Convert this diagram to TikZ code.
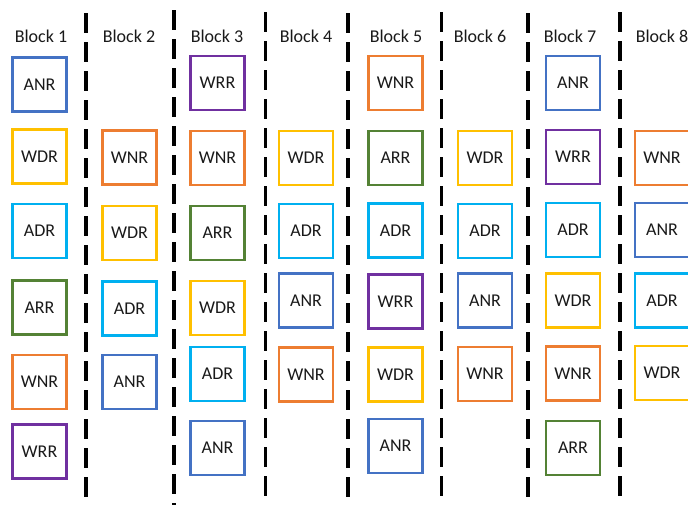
\documentclass[tikz,border=0pt]{standalone}
\usepackage{fontspec}
\setmainfont{Carlito}
\definecolor{cANR}{HTML}{4472C4}
\definecolor{cWNR}{HTML}{ED7D31}
\definecolor{cWDR}{HTML}{FFC000}
\definecolor{cADR}{HTML}{00B0F0}
\definecolor{cARR}{HTML}{548235}
\definecolor{cWRR}{HTML}{7030A0}
\tikzset{
  box/.style={draw, line width=2.5pt, minimum width=54pt, minimum height=54pt, inner sep=0pt,
    font=\fontsize{18}{21}\selectfont, text=black!90},
  anr/.style={box, draw=cANR},
  wnr/.style={box, draw=cWNR},
  wdr/.style={box, draw=cWDR},
  adr/.style={box, draw=cADR},
  arr/.style={box, draw=cARR},
  wrr/.style={box, draw=cWRR},
  blocklabel/.style={font=\fontsize{18}{21}\selectfont, text=black!90, inner sep=0pt},
  divider/.style={line width=3.3pt, dash pattern=on 20pt off 9pt}
}
\begin{document}
\begin{tikzpicture}[x=1pt,y=-1pt]
\useasboundingbox (0,0) rectangle (688,504);
\clip (0,0) rectangle (688,504);
% dividers
\foreach \x/\s in {86/13,174/10,265.5/12,348/13,441.5/12,528/13,620/12}{
  \draw[divider] (\x,\s) -- (\x,510);
}
% labels
\node[blocklabel] (l1) at (41,36) {Block 1};
\node[blocklabel] (l2) at (129,36) {Block 2};
\node[blocklabel] (l3) at (217,36) {Block 3};
\node[blocklabel] (l4) at (306,36) {Block 4};
\node[blocklabel] (l5) at (396,36) {Block 5};
\node[blocklabel] (l6) at (480,36) {Block 6};
\node[blocklabel] (l7) at (570,36) {Block 7};
\node[blocklabel] (l8) at (662,36) {Block 8};
% Block 1
\node[anr] (b1a) at (39.5,84.5) {ANR};
\node[wdr] (b1b) at (39.5,156.5) {WDR};
\node[adr] (b1c) at (39.5,231) {ADR};
\node[arr] (b1d) at (39.5,307.5) {ARR};
\node[wnr] (b1e) at (39.5,382) {WNR};
\node[wrr] (b1f) at (39.5,451.5) {WRR};
% Block 2
\node[wnr] (b2a) at (129.5,157.5) {WNR};
\node[wdr] (b2b) at (129.5,233) {WDR};
\node[adr] (b2c) at (129.5,308.5) {ADR};
\node[anr] (b2d) at (129.5,382) {ANR};
% Block 3
\node[wrr] (b3a) at (217.5,83) {WRR};
\node[wnr] (b3b) at (217.5,158) {WNR};
\node[arr] (b3c) at (217.5,233) {ARR};
\node[wdr] (b3d) at (217.5,308) {WDR};
\node[adr] (b3e) at (217.5,374) {ADR};
\node[anr] (b3f) at (217.5,448) {ANR};
% Block 4
\node[wdr] (b4a) at (306,158) {WDR};
\node[adr] (b4b) at (306,231) {ADR};
\node[anr] (b4c) at (306,300.5) {ANR};
\node[wnr] (b4d) at (306,374.5) {WNR};
% Block 5
\node[wnr] (b5a) at (395.5,83) {WNR};
\node[arr] (b5b) at (395.5,158) {ARR};
\node[adr] (b5c) at (395.5,230.5) {ADR};
\node[wrr] (b5d) at (395.5,301.5) {WRR};
\node[wdr] (b5e) at (395.5,374.5) {WDR};
\node[anr] (b5f) at (395.5,446) {ANR};
% Block 6
\node[wdr] (b6a) at (485,158) {WDR};
\node[adr] (b6b) at (485,231) {ADR};
\node[anr] (b6c) at (485,300.5) {ANR};
\node[wnr] (b6d) at (485,374) {WNR};
% Block 7
\node[anr] (b7a) at (573,83) {ANR};
\node[wrr] (b7b) at (573,157) {WRR};
\node[adr] (b7c) at (573,230) {ADR};
\node[wdr] (b7d) at (573,300.5) {WDR};
\node[wnr] (b7e) at (573,373.5) {WNR};
\node[arr] (b7f) at (573,448) {ARR};
% Block 8
\node[wnr] (b8a) at (662,158) {WNR};
\node[anr] (b8b) at (662,230) {ANR};
\node[adr] (b8c) at (662,300.5) {ADR};
\node[wdr] (b8d) at (662,373) {WDR};
\end{tikzpicture}
\end{document}
